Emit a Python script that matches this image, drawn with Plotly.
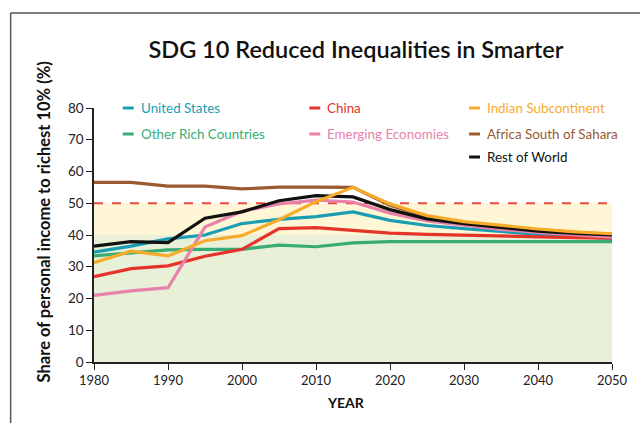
import plotly.graph_objects as go

years = [1980, 1985, 1990, 1995, 2000, 2005, 2010, 2015, 2020, 2025, 2030, 2035, 2040, 2045, 2050]

other_rich = [33.4, 34.4, 35.3, 35.5, 35.5, 36.8, 36.3, 37.5, 37.9, 37.9, 37.9, 37.9, 37.9, 37.9, 37.9]
united_states = [34.6, 36.5, 38.8, 40.0, 43.6, 44.9, 45.8, 47.3, 44.6, 43.0, 42.0, 41.0, 40.2, 39.5, 38.9]
china = [26.9, 29.4, 30.3, 33.3, 35.5, 42.0, 42.3, 41.4, 40.6, 40.2, 39.9, 39.7, 39.5, 39.2, 39.0]
emerging = [21.0, 22.4, 23.4, 42.5, 47.5, 49.8, 51.0, 50.4, 46.9, 44.4, 43.1, 41.8, 40.8, 40.0, 39.3]
africa = [56.6, 56.6, 55.4, 55.4, 54.5, 55.1, 55.1, 55.0, 49.4, 45.8, 43.8, 42.6, 41.6, 40.8, 40.2]
rest_world = [36.5, 37.9, 37.6, 45.3, 47.3, 50.8, 52.4, 52.0, 48.0, 45.1, 43.6, 42.3, 41.2, 40.5, 40.0]
indian = [31.3, 34.9, 33.4, 38.2, 39.8, 44.8, 50.5, 55.0, 49.8, 46.1, 44.2, 43.0, 41.9, 41.0, 40.4]

x_ticks = [1980, 1990, 2000, 2010, 2020, 2030, 2040, 2050]
y_ticks = [0, 10, 20, 30, 40, 50, 60, 70, 80]

threshold_high = 50
threshold_low = 40

C_US = "#1a9db3"
C_ORC = "#3aab74"
C_CN = "#e6332a"
C_IN = "#f7ab2a"
C_EM = "#e882ab"
C_AF = "#985a2e"
C_RW = "#111111"

series = [
    ("Other Rich Countries", other_rich, C_ORC),
    ("United States", united_states, C_US),
    ("China", china, C_CN),
    ("Emerging Economies", emerging, C_EM),
    ("Africa South of Sahara", africa, C_AF),
    ("Rest of World", rest_world, C_RW),
    ("Indian Subcontinent", indian, C_IN),
]

fig = go.Figure()
for name, vals, col in series:
    fig.add_trace(go.Scatter(x=years, y=vals, mode="lines", name=name,
                             line=dict(color=col, width=3.2), showlegend=False))

FONT = "Lato"

def px_x(p):
    return (p - 94) / 522

def px_y(p):
    return (362 - p) / 254

# background bands
fig.add_shape(type="rect", xref="x", yref="y", x0=years[0], x1=years[-1], y0=0, y1=threshold_low,
              fillcolor="#e8f0d7", line_width=0, layer="below")
fig.add_shape(type="rect", xref="x", yref="y", x0=years[0], x1=years[-1], y0=threshold_low, y1=threshold_high,
              fillcolor="#fff6d6", line_width=0, layer="below")
fig.add_shape(type="line", xref="x", yref="y", x0=years[0], x1=years[-1], y0=threshold_high, y1=threshold_high,
              line=dict(color="#e84a3f", width=2, dash="dash"), layer="below")

# outer frame
fig.add_shape(type="line", xref="paper", yref="paper", x0=px_x(10), x1=px_x(10), y0=px_y(13), y1=px_y(440),
              line=dict(color="#555555", width=1.5))
fig.add_shape(type="line", xref="paper", yref="paper", x0=px_x(10), x1=px_x(660), y0=px_y(13), y1=px_y(13),
              line=dict(color="#555555", width=1.5))

# custom legend
legend_items = [
    ("United States", C_US, 0, 0),
    ("China", C_CN, 1, 0),
    ("Indian Subcontinent", C_IN, 2, 0),
    ("Other Rich Countries", C_ORC, 0, 1),
    ("Emerging Economies", C_EM, 1, 1),
    ("Africa South of Sahara", C_AF, 2, 1),
    ("Rest of World", C_RW, 2, 2),
]
col_px = [123, 311, 472]
row_px = [108, 134, 157]
for name, col, c, r in legend_items:
    yy = px_y(row_px[r])
    fig.add_shape(type="line", xref="paper", yref="paper", x0=px_x(col_px[c]), x1=px_x(col_px[c] + 11),
                  y0=yy, y1=yy, line=dict(color=col, width=3))
    fig.add_annotation(xref="paper", yref="paper", x=px_x(col_px[c] + 16), y=yy, text=name, showarrow=False,
                       xanchor="left", yanchor="middle", font=dict(family=FONT, size=13.4, color=col))

# axis titles
fig.add_annotation(xref="paper", yref="paper", x=px_x(44), y=px_y(222), text="<b>Share of personal income to richest 10% (%)</b>",
                   textangle=-90, showarrow=False, xanchor="center", yanchor="middle",
                   font=dict(family=FONT, size=16.5, color="#111111"))
fig.add_annotation(xref="paper", yref="paper", x=px_x(348), y=px_y(402), text="<b>YEAR</b>",
                   showarrow=False, xanchor="center", yanchor="middle",
                   font=dict(family=FONT, size=14, color="#111111"))

fig.update_layout(
    width=640, height=423,
    margin=dict(l=94, r=24, t=108, b=61),
    plot_bgcolor="white", paper_bgcolor="white",
    title=dict(text="SDG 10 Reduced Inequalities in Smarter", x=px_x(358), xref="paper",
               xanchor="center", y=1 - 50 / 423, yanchor="middle",
               font=dict(family=FONT, size=23.5, color="#111111", weight=600)),
    font=dict(family=FONT, color="#222222"),
    xaxis=dict(range=[years[0], years[-1]], tickvals=x_ticks, showgrid=False, zeroline=False,
               showline=True, linecolor="#222222", linewidth=1.5, ticks="outside", ticklen=6,
               tickcolor="#222222", tickfont=dict(size=13, color="#222222")),
    yaxis=dict(range=[0, 80], tickvals=y_ticks, showgrid=False, zeroline=False,
               showline=True, linecolor="#222222", linewidth=1.5, ticks="outside", ticklen=6,
               tickcolor="#222222", tickfont=dict(size=13.5, color="#222222")),
)

fig.write_html("out.html", config={"displayModeBar": False},
               post_script="document.body.style.margin='0';document.body.style.padding='0';")
